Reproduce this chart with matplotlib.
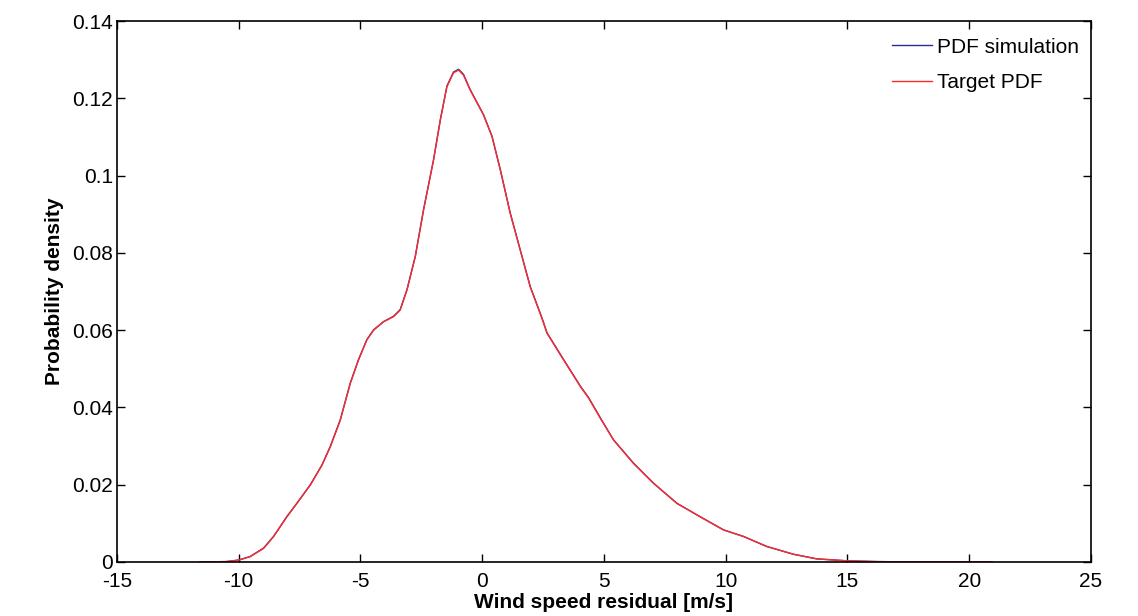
import matplotlib.pyplot as plt

plt.rcParams['font.family'] = ['Liberation Sans', 'DejaVu Sans']
plt.rcParams['axes.unicode_minus'] = False

# valores
x_res = [-11.6, -10.5, -10.0, -9.53, -8.98, -8.57, -8.02, -7.61, -7.06, -6.58, -6.24,
         -5.83, -5.42, -5.08, -4.74, -4.46, -4.05, -3.64, -3.37, -3.09, -2.75, -2.41,
         -2.0, -1.72, -1.45, -1.18, -0.97, -0.77, -0.50, 0.05, 0.40, 0.74, 1.15, 1.56,
         1.97, 2.45, 2.66, 3.34, 4.03, 4.37, 4.85, 5.39, 6.21, 7.03, 7.99, 8.95, 9.91,
         10.73, 11.69, 12.78, 13.74, 14.98, 16.2, 18.0, 20.93]

pdf_alvo = [0.0, 0.0001, 0.0005, 0.0014, 0.0035, 0.0066, 0.0117, 0.0152, 0.0199, 0.0251, 0.0298,
            0.0367, 0.0462, 0.0523, 0.0575, 0.0600, 0.0622, 0.0635, 0.0652, 0.0704, 0.0790, 0.0911,
            0.1040, 0.1144, 0.1230, 0.1266, 0.1273, 0.1260, 0.1222, 0.1157, 0.1101, 0.1015, 0.0902, 0.0807,
            0.0712, 0.0631, 0.0592, 0.0523, 0.0454, 0.0424, 0.0372, 0.0316, 0.0255, 0.0204, 0.0152, 0.0117, 0.0083,
            0.0066, 0.0040, 0.0020, 0.0008, 0.0003, 0.0001, 0.0, 0.0]

pdf_sim = [0.0, 0.0001, 0.0005, 0.0014, 0.0036, 0.0066, 0.0118, 0.0152, 0.0200, 0.0251, 0.0299,
           0.0368, 0.0463, 0.0524, 0.0575, 0.0601, 0.0622, 0.0636, 0.0653, 0.0705, 0.0791, 0.0912,
           0.1041, 0.1145, 0.1232, 0.1268, 0.1275, 0.1262, 0.1223, 0.1158, 0.1102, 0.1016, 0.0903, 0.0808,
           0.0713, 0.0632, 0.0593, 0.0524, 0.0455, 0.0425, 0.0373, 0.0316, 0.0256, 0.0204, 0.0152, 0.0117, 0.0083,
           0.0066, 0.0040, 0.0020, 0.0008, 0.0003, 0.0001, 0.0, 0.0]

fig = plt.figure(figsize=(11.38, 6.16), dpi=100)
ax = fig.add_axes([0.1028, 0.0877, 0.8559, 0.8782])

ax.plot(x_res, pdf_sim, color='#2a2f8f', lw=1.0, label='PDF simulation')
ax.plot(x_res, pdf_alvo, color='#ff2a2a', lw=1.0, label='Target PDF')

ax.set_xlim(-15, 25)
ax.set_ylim(0, 0.14)
ax.set_xticks(range(-15, 26, 5))
ax.set_yticks([0, 0.02, 0.04, 0.06, 0.08, 0.1, 0.12, 0.14])
ax.set_yticklabels(['0', '0.02', '0.04', '0.06', '0.08', '0.1', '0.12', '0.14'])
ax.tick_params(direction='in', length=6, width=1, top=True, right=True, labelsize=15)
ax.tick_params(axis='y', pad=3)
ax.tick_params(axis='x', pad=7)
for s in ax.spines.values():
    s.set_linewidth(1.2)

ax.set_xlabel('Wind speed residual [m/s]', fontsize=15, fontweight='bold', labelpad=2)
ax.set_ylabel('Probability density', fontsize=15, fontweight='bold', labelpad=6)

leg = ax.legend(loc='upper right', bbox_to_anchor=(0.996, 0.9845), frameon=False, fontsize=15,
                handlelength=1.9, handletextpad=0.25, labelspacing=0.8, borderaxespad=0)

fig.savefig('out.png', dpi=100)
